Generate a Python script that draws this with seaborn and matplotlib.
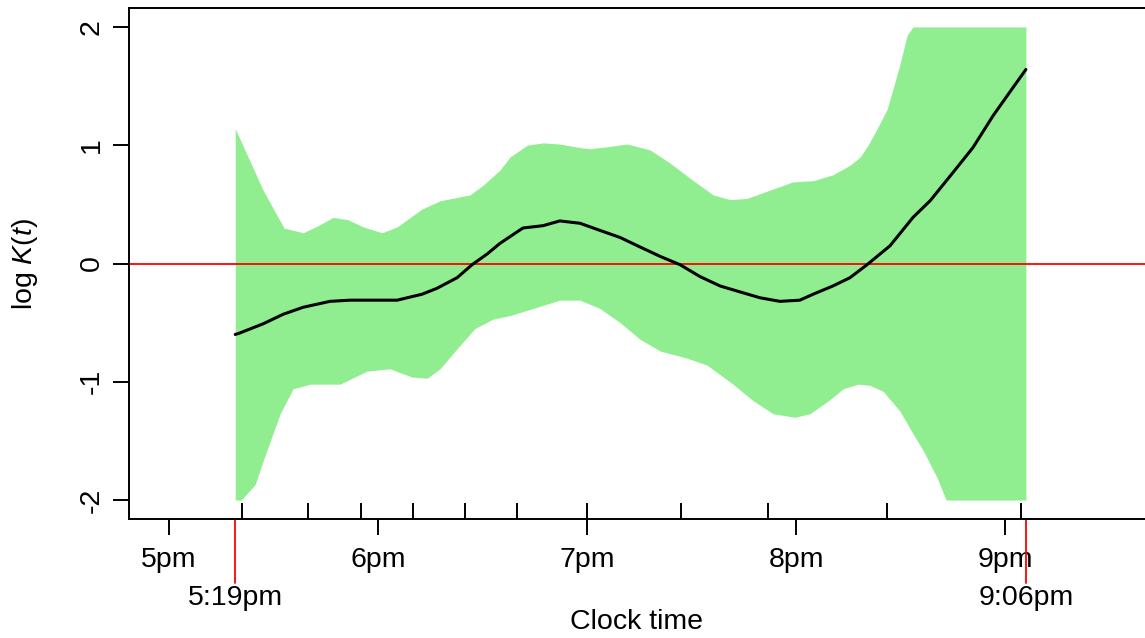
import numpy as np
import pandas as pd
import matplotlib
matplotlib.use("Agg")
import matplotlib.pyplot as plt
import seaborn as sns

# time is in minutes after 5pm
fit_time = [19, 20.1, 27.0, 32.7, 38.5, 46.2, 52.0, 65.5, 72.6, 76.9, 82.7, 87.0, 91.3,
            95.0, 101.6, 107.4, 112.2, 118.0, 123.7, 129.5, 135.2, 141.0, 146.7, 152.4,
            158.2, 163.9, 169.7, 175.4, 181.1, 184.9, 190.6, 195.5, 200.4, 207.0, 213.6,
            218.5, 225.1, 230.8, 236.6, 241.4, 246]
log_k = [-0.60, -0.59, -0.51, -0.43, -0.37, -0.32, -0.31, -0.31, -0.26, -0.21, -0.12, -0.01,
         0.08, 0.17, 0.30, 0.32, 0.36, 0.34, 0.28, 0.22, 0.14, 0.06, -0.01, -0.11, -0.19,
         -0.24, -0.29, -0.32, -0.31, -0.26, -0.19, -0.12, -0.01, 0.15, 0.39, 0.53, 0.77,
         0.98, 1.25, 1.45, 1.64]

upper_time = [19, 27.0, 33.0, 38.5, 42.8, 47.1, 51.4, 55.7, 61.2, 65.5, 72.6, 77.8, 86.4,
              90.1, 95.0, 97.9, 102.8, 107.4, 112.2, 118.0, 120.9, 126.6, 131.5, 138.1,
              143.8, 149.6, 156.2, 161.1, 165.9, 172.5, 179.1, 184.9, 190.6, 195.5, 198.4,
              200.7, 203.3, 206.1, 207.8, 209.9, 211.9, 213.6, 246]
upper = [1.14, 0.62, 0.30, 0.26, 0.32, 0.39, 0.37, 0.31, 0.26, 0.31, 0.46, 0.53, 0.58,
         0.66, 0.79, 0.90, 1.00, 1.02, 1.01, 0.98, 0.97, 0.99, 1.01, 0.96, 0.85, 0.72,
         0.58, 0.54, 0.55, 0.62, 0.69, 0.70, 0.75, 0.83, 0.90, 1.00, 1.14, 1.30, 1.47,
         1.69, 1.93, 2.0, 2.0]

lower_time = [19, 20.7, 24.7, 27.0, 31.9, 35.6, 40.5, 49.1, 56.8, 63.4, 69.8, 74.1, 77.8,
              82.7, 87.8, 93.0, 97.9, 104.5, 112.2, 118.0, 123.7, 129.5, 135.2, 141.0,
              148.7, 154.5, 161.9, 167.7, 173.4, 179.7, 184.0, 189.8, 193.5, 197.8, 201.2,
              205.0, 209.9, 213.6, 216.5, 220.5, 223.1, 246]
lower = [-2.0, -2.0, -1.87, -1.67, -1.27, -1.06, -1.02, -1.02, -0.91, -0.89, -0.96, -0.97,
         -0.89, -0.72, -0.55, -0.47, -0.44, -0.38, -0.31, -0.31, -0.38, -0.50, -0.64, -0.74,
         -0.80, -0.86, -1.02, -1.16, -1.27, -1.30, -1.27, -1.15, -1.06, -1.02, -1.03, -1.08,
         -1.25, -1.44, -1.58, -1.81, -2.0, -2.0]

# event times marked with inward ticks
event_times = [21, 40, 55, 70, 85, 100, 120, 147, 172, 206, 244.5]

hour_ticks = [0, 60, 120, 180, 240]
hour_labels = ["5pm", "6pm", "7pm", "8pm", "9pm"]
range_times = [19, 246]
range_labels = ["5:19pm", "9:06pm"]

sns.set_theme(style="ticks")
plt.rcParams["font.family"] = ["Liberation Sans", "DejaVu Sans"]
plt.rcParams["mathtext.fontset"] = "custom"
plt.rcParams["mathtext.it"] = "Liberation Sans:italic"
plt.rcParams["mathtext.rm"] = "Liberation Sans"
for key in ["text.color", "axes.labelcolor", "xtick.color", "ytick.color"]:
    plt.rcParams[key] = "black"

FS = 20.5
fig = plt.figure(figsize=(11.45, 6.38), dpi=100)
ax = fig.add_axes([129 / 1145, 1 - 519 / 638, 1 - 129 / 1145, 511 / 638])

# confidence band
t_grid = np.union1d(upper_time, lower_time)
band = pd.DataFrame({
    "t": t_grid,
    "lo": np.interp(t_grid, lower_time, lower),
    "hi": np.interp(t_grid, upper_time, upper),
})
ax.fill_between(band["t"], band["lo"], band["hi"], color="#90EE90", lw=0)

ax.axhline(0, color="red", lw=1.3, zorder=2)

fit = pd.DataFrame({"t": fit_time, "logk": log_k})
sns.lineplot(data=fit, x="t", y="logk", ax=ax, color="black", lw=2.2, zorder=3)

ax.set_xlim(-11.5, 280.2)
ax.set_ylim(-2.16, 2.16)

ax.set_xticks(hour_ticks)
ax.set_xticklabels(hour_labels)
ax.set_xticks(event_times, minor=True)
ax.xaxis.remove_overlapping_locs = False
ax.tick_params(axis="x", which="major", direction="out", length=11.5, width=1.4,
               labelsize=FS, pad=9)
ax.tick_params(axis="x", which="minor", direction="in", length=11.5, width=1.4)

ax.set_yticks([-2, -1, 0, 1, 2])
ax.set_yticklabels(["-2", "-1", "0", "1", "2"], rotation=90, va="center")
ax.tick_params(axis="y", direction="out", length=11.5, width=1.4, labelsize=FS, pad=6)

# study range markers below the axis
trans = ax.get_xaxis_transform()
for t, lab in zip(range_times, range_labels):
    ax.plot([t, t], [0, -64 / 511], color="red", lw=1.3, transform=trans, clip_on=False)
    ax.text(t, -79 / 511, lab, transform=trans, ha="center", va="center", fontsize=FS)

ax.set_xlabel("Clock time", fontsize=FS)
ax.xaxis.set_label_coords(0.5, -103 / 511)
ax.xaxis.label.set_va("center")
ax.set_ylabel(r"log $K(t)$", fontsize=FS)
ax.yaxis.set_label_coords(-104 / 1016, 0.5)
ax.yaxis.label.set_va("center")

for side in ["left", "bottom", "top"]:
    ax.spines[side].set_visible(True)
    ax.spines[side].set_linewidth(1.4)
    ax.spines[side].set_color("black")
ax.spines["right"].set_visible(False)

fig.savefig("out.png", dpi=100)
